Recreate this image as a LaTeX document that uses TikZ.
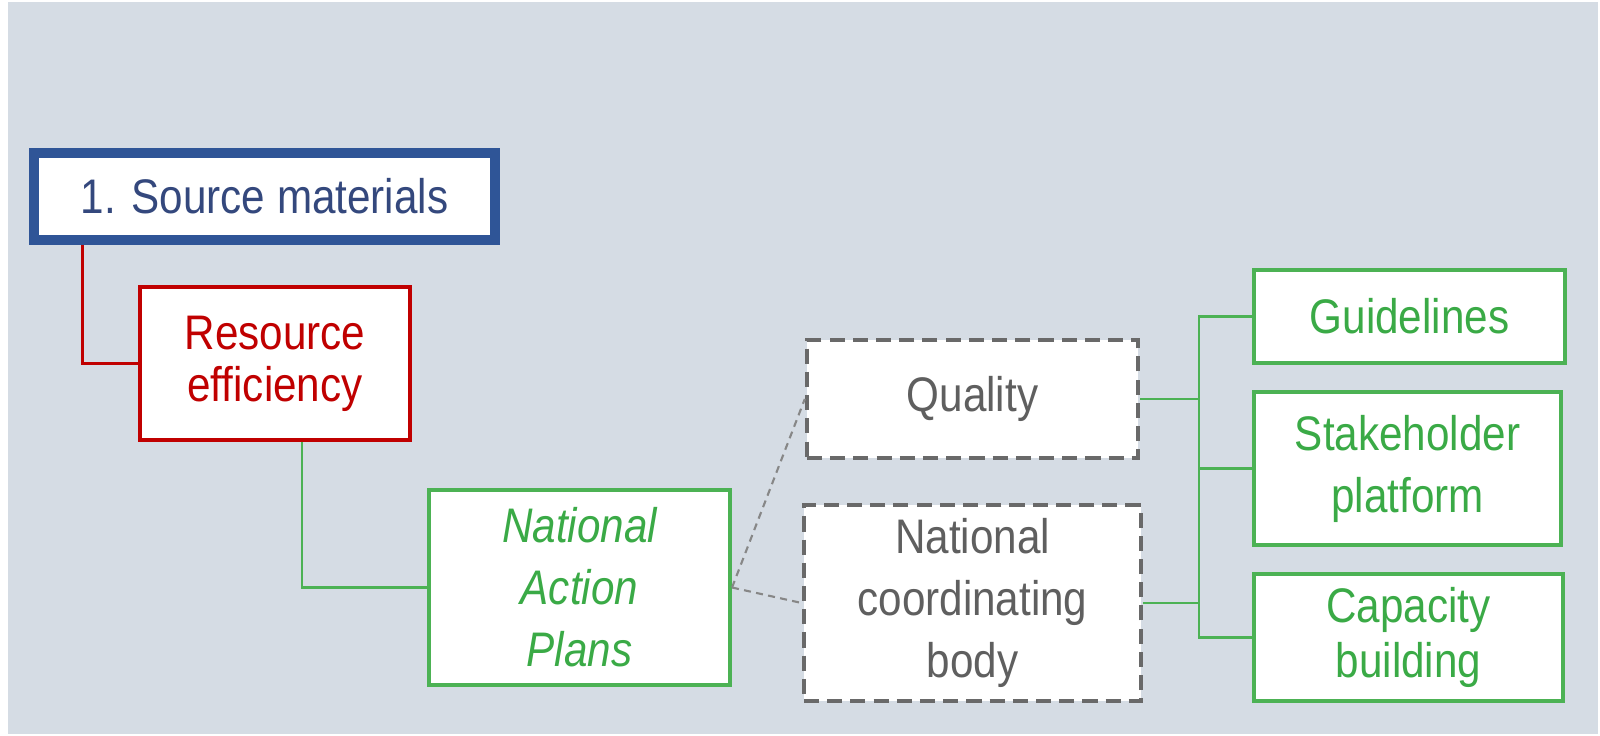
\documentclass[tikz,border=0pt]{standalone}
\usepackage{fontspec}
\setmainfont{Liberation Sans}[FakeStretch=0.87]
\usepackage{tikz}

\definecolor{bggray}{RGB}{213,220,228}
\definecolor{srcblue}{RGB}{47,85,151}
\definecolor{srctext}{RGB}{52,72,125}
\definecolor{effred}{RGB}{192,0,0}
\definecolor{napgreen}{RGB}{76,178,84}
\definecolor{txtgreen}{RGB}{58,170,70}
\definecolor{dashgray}{RGB}{105,105,105}
\definecolor{txtgray}{RGB}{95,95,95}

\tikzset{
  box/.style={draw, fill=white, rectangle, align=center, inner sep=0pt,
    font=\fontsize{13.8}{17.6}\selectfont},
  greenbox/.style={box, draw=napgreen, line width=1.1pt, text=txtgreen},
  graybox/.style={box, draw=dashgray, line width=1.2pt,
    dash pattern=on 4.3pt off 2.3pt, text=txtgray},
  greenline/.style={draw=napgreen, line width=0.6pt},
  dashline/.style={draw=dashgray!80, line width=0.6pt, dash pattern=on 2pt off 1.5pt}
}

\begin{document}
\begin{tikzpicture}[x=0.01cm,y=-0.01cm]
\useasboundingbox (0,0) rectangle (1600,735);
\fill[white] (0,0) rectangle (1600,735);
\fill[bggray] (8,2) rectangle (1598,734);

% left branch
\node[box, draw=srcblue, line width=2.85pt, text=srctext,
  minimum width=4.61cm, minimum height=0.87cm] (src) at (264.5,196.5) {1. Source materials};
\node[box, draw=effred, line width=1.1pt, text=effred,
  font=\fontsize{13.8}{14.7}\selectfont,
  minimum width=2.70cm, minimum height=1.53cm] (eff) at (275,363.5) {Resource\\efficiency};
\node[greenbox, font=\itshape\fontsize{13.8}{17.6}\selectfont,
  minimum width=3.01cm, minimum height=1.95cm] (nap) at (579.5,587.5) {National\\Action\\Plans};

% middle
\node[graybox, minimum width=3.31cm, minimum height=1.18cm] (qual) at (972.5,399) {Quality};
\node[graybox, minimum width=3.37cm, minimum height=1.96cm] (ncb) at (972.5,603) {National\\coordinating\\body};

% right column
\node[greenbox, minimum width=3.11cm, minimum height=0.93cm] (guide) at (1409.5,316.5) {Guidelines};
\node[greenbox, minimum width=3.07cm, minimum height=1.53cm] (stake) at (1407.5,468.5) {Stakeholder\\platform};
\node[greenbox, font=\fontsize{13.8}{15.8}\selectfont,
  minimum width=3.09cm, minimum height=1.27cm] (cap) at (1408.5,637.5) {Capacity\\building};

\coordinate (bus) at (1199,0);

\draw[effred, line width=0.85pt] ([xshift=0.54cm]src.south west) |- (eff.west);
\draw[greenline] ([xshift=0.27cm]eff.south) |- (nap.west);
\draw[dashline] (nap.east) -- (qual.west);
\draw[dashline] (nap.east) -- (ncb.west);
\draw[greenline] (qual.east) -- (qual.east -| bus);
\draw[greenline] (ncb.east) -- (ncb.east -| bus);
\draw[greenline] (guide.west) -- (guide.west -| bus) -- (cap.west -| bus) -- (cap.west);
\draw[greenline] (stake.west) -- (stake.west -| bus);
\end{tikzpicture}
\end{document}
